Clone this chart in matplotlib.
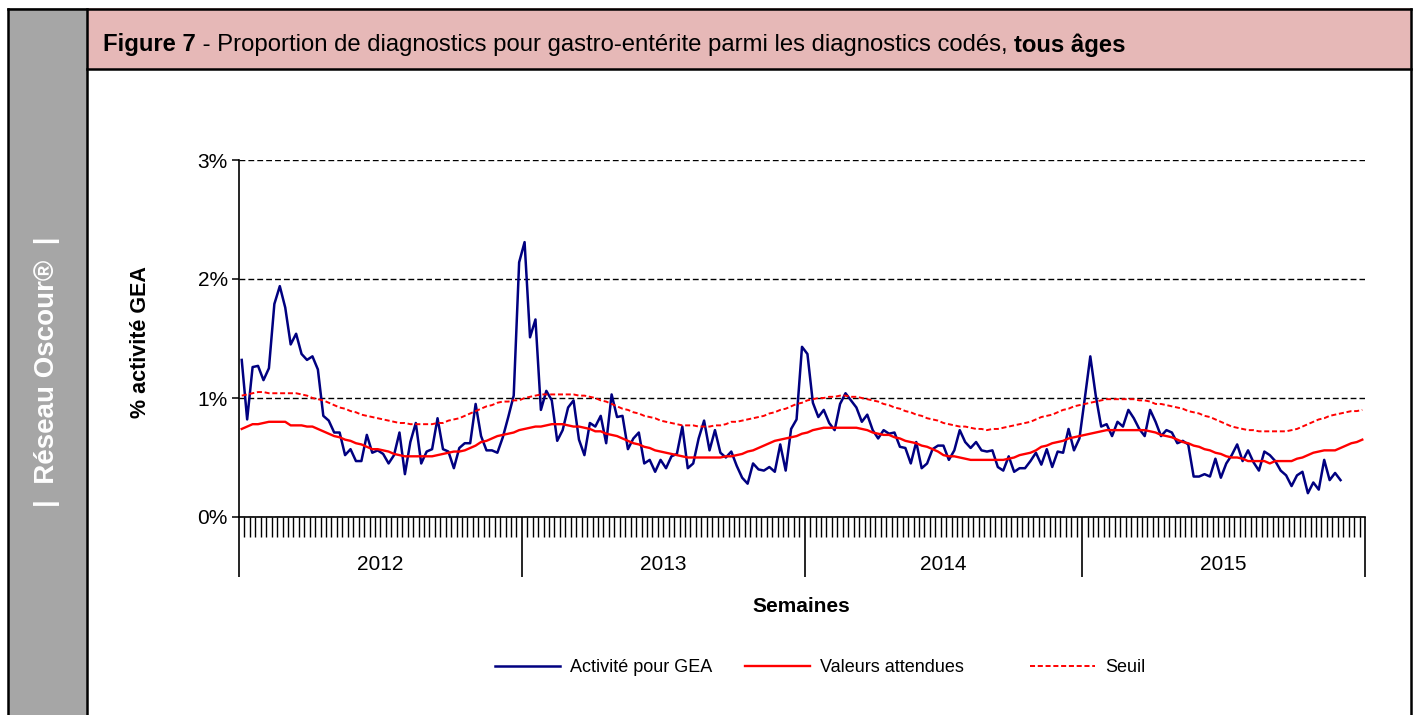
import matplotlib
matplotlib.use('Agg')
import matplotlib.pyplot as plt
from matplotlib.lines import Line2D
from matplotlib.patches import Rectangle
from matplotlib.transforms import blended_transform_factory
import numpy as np

plt.rcParams['font.family'] = ['Liberation Sans', 'DejaVu Sans']

W, H, DPI = 1416, 715, 100

# ---------------- data ----------------
years = ['2012', '2013', '2014', '2015']
year_bounds = [-0.5, 51.5, 103.5, 154.5, 206.5]

activite = [
    1.32, 0.82, 1.26, 1.27, 1.15, 1.25, 1.79, 1.94, 1.76, 1.45,
    1.54, 1.37, 1.32, 1.35, 1.24, 0.85, 0.81, 0.71, 0.71, 0.52,
    0.57, 0.47, 0.47, 0.69, 0.54, 0.56, 0.53, 0.45, 0.52, 0.71,
    0.36, 0.63, 0.79, 0.45, 0.55, 0.57, 0.83, 0.57, 0.55, 0.41,
    0.58, 0.62, 0.62, 0.95, 0.68, 0.56, 0.56, 0.54, 0.67, 0.84,
    1.02, 2.14, 2.31, 1.51, 1.66, 0.90, 1.06, 0.98, 0.64, 0.73,
    0.92, 0.98, 0.65, 0.52, 0.79, 0.76, 0.85, 0.62, 1.03, 0.84,
    0.85, 0.57, 0.66, 0.71, 0.45, 0.48, 0.38, 0.48, 0.41, 0.51,
    0.53, 0.76, 0.41, 0.45, 0.66, 0.81, 0.56, 0.73, 0.54, 0.50,
    0.55, 0.43, 0.33, 0.28, 0.45, 0.40, 0.39, 0.42, 0.38, 0.61,
    0.39, 0.74, 0.82, 1.43, 1.37, 0.96, 0.84, 0.90, 0.79, 0.73,
    0.95, 1.04, 0.98, 0.92, 0.80, 0.86, 0.73, 0.66, 0.73, 0.70,
    0.71, 0.59, 0.58, 0.45, 0.63, 0.41, 0.45, 0.57, 0.60, 0.60,
    0.48, 0.56, 0.73, 0.63, 0.58, 0.63, 0.56, 0.55, 0.56, 0.42,
    0.39, 0.51, 0.38, 0.41, 0.41, 0.47, 0.54, 0.44, 0.57, 0.42,
    0.55, 0.54, 0.74, 0.56, 0.66, 1.00, 1.35, 1.02, 0.76, 0.78,
    0.68, 0.80, 0.76, 0.90, 0.83, 0.74, 0.68, 0.90, 0.80, 0.68,
    0.73, 0.71, 0.62, 0.64, 0.61, 0.34, 0.34, 0.36, 0.34, 0.49,
    0.33, 0.45, 0.52, 0.61, 0.47, 0.56, 0.46, 0.39, 0.55, 0.52,
    0.47, 0.39, 0.35, 0.26, 0.35, 0.38, 0.20, 0.29, 0.23, 0.48,
    0.31, 0.37, 0.31,
]

attendues = [
    0.74, 0.76, 0.78, 0.78, 0.79, 0.80, 0.80, 0.80, 0.80, 0.77,
    0.77, 0.77, 0.76, 0.76, 0.74, 0.72, 0.70, 0.68, 0.67, 0.65,
    0.64, 0.62, 0.61, 0.59, 0.57, 0.57, 0.56, 0.55, 0.53, 0.52,
    0.51, 0.51, 0.51, 0.51, 0.51, 0.51, 0.52, 0.53, 0.54, 0.55,
    0.55, 0.56, 0.58, 0.60, 0.63, 0.64, 0.66, 0.68, 0.69, 0.70,
    0.71, 0.73, 0.74, 0.75, 0.76, 0.76, 0.77, 0.78, 0.78, 0.78,
    0.77, 0.76, 0.76, 0.75, 0.74, 0.72, 0.72, 0.70, 0.69, 0.68,
    0.66, 0.64, 0.62, 0.61, 0.59, 0.58, 0.56, 0.55, 0.54, 0.53,
    0.52, 0.51, 0.50, 0.50, 0.50, 0.50, 0.50, 0.50, 0.50, 0.51,
    0.51, 0.52, 0.53, 0.55, 0.56, 0.58, 0.60, 0.62, 0.64, 0.65,
    0.66, 0.67, 0.68, 0.70, 0.71, 0.73, 0.74, 0.75, 0.75, 0.75,
    0.75, 0.75, 0.75, 0.75, 0.74, 0.73, 0.71, 0.70, 0.69, 0.69,
    0.67, 0.66, 0.64, 0.63, 0.62, 0.60, 0.59, 0.57, 0.55, 0.52,
    0.51, 0.51, 0.50, 0.49, 0.48, 0.48, 0.48, 0.48, 0.48, 0.48,
    0.48, 0.49, 0.50, 0.52, 0.53, 0.54, 0.56, 0.59, 0.60, 0.62,
    0.63, 0.64, 0.66, 0.67, 0.68, 0.69, 0.70, 0.71, 0.72, 0.73,
    0.73, 0.73, 0.73, 0.73, 0.73, 0.73, 0.73, 0.72, 0.71, 0.69,
    0.68, 0.67, 0.65, 0.63, 0.62, 0.60, 0.59, 0.57, 0.56, 0.54,
    0.53, 0.51, 0.50, 0.50, 0.49, 0.47, 0.47, 0.47, 0.47, 0.45,
    0.47, 0.47, 0.47, 0.47, 0.49, 0.50, 0.52, 0.54, 0.55, 0.56,
    0.56, 0.56, 0.58, 0.60, 0.62, 0.63, 0.65,
]

seuil = [
    1.02, 1.03, 1.04, 1.05, 1.05, 1.04, 1.04, 1.04, 1.04, 1.04,
    1.04, 1.03, 1.02, 1.00, 0.99, 0.98, 0.96, 0.94, 0.92, 0.91,
    0.89, 0.88, 0.86, 0.85, 0.84, 0.83, 0.82, 0.81, 0.80, 0.79,
    0.79, 0.78, 0.78, 0.78, 0.78, 0.78, 0.79, 0.79, 0.81, 0.82,
    0.83, 0.85, 0.87, 0.89, 0.91, 0.93, 0.94, 0.96, 0.97, 0.97,
    0.98, 0.98, 1.00, 1.01, 1.02, 1.03, 1.03, 1.03, 1.03, 1.03,
    1.03, 1.03, 1.02, 1.02, 1.01, 1.00, 0.98, 0.97, 0.95, 0.93,
    0.91, 0.90, 0.88, 0.87, 0.85, 0.84, 0.83, 0.81, 0.80, 0.79,
    0.78, 0.77, 0.77, 0.77, 0.76, 0.76, 0.76, 0.77, 0.77, 0.78,
    0.80, 0.80, 0.81, 0.82, 0.83, 0.84, 0.85, 0.87, 0.88, 0.90,
    0.91, 0.93, 0.95, 0.96, 0.98, 0.99, 1.00, 1.00, 1.01, 1.01,
    1.02, 1.02, 1.01, 1.01, 1.00, 0.99, 0.98, 0.97, 0.95, 0.94,
    0.92, 0.91, 0.89, 0.88, 0.86, 0.85, 0.83, 0.82, 0.81, 0.79,
    0.78, 0.77, 0.76, 0.76, 0.75, 0.74, 0.74, 0.73, 0.74, 0.74,
    0.75, 0.76, 0.77, 0.78, 0.79, 0.80, 0.82, 0.84, 0.85, 0.86,
    0.88, 0.90, 0.91, 0.93, 0.94, 0.95, 0.96, 0.97, 0.98, 0.99,
    0.99, 0.99, 0.99, 0.99, 0.99, 0.98, 0.98, 0.97, 0.95, 0.95,
    0.94, 0.93, 0.92, 0.91, 0.89, 0.88, 0.87, 0.85, 0.84, 0.82,
    0.80, 0.78, 0.76, 0.75, 0.74, 0.73, 0.73, 0.72, 0.72, 0.72,
    0.72, 0.72, 0.72, 0.73, 0.74, 0.76, 0.78, 0.80, 0.82, 0.83,
    0.85, 0.86, 0.87, 0.88, 0.89, 0.89, 0.90,
]

y_ticks = [0, 1, 2, 3]
y_tick_labels = ['0%', '1%', '2%', '3%']
series_labels = ['Activité pour GEA', 'Valeurs attendues', 'Seuil']
title_parts = ['Figure 7',
               ' - Proportion de diagnostics pour gastro-entérite parmi les diagnostics codés, ',
               'tous âges']
side_text = '|  Réseau Oscour®  |'
y_label = '% activité GEA'
x_label = 'Semaines'

# ---------------- figure ----------------
fig = plt.figure(figsize=(W / DPI, H / DPI), dpi=DPI)
fig.patch.set_facecolor('white')


def fx(px):
    return px / W


def fy(py):
    return 1 - py / H


# side bar and title band
fig.add_artist(Rectangle((fx(8), fy(715)), fx(87) - fx(8), fy(8) - fy(715),
                         transform=fig.transFigure, facecolor='#A6A6A6',
                         edgecolor='none', zorder=0))
fig.add_artist(Rectangle((fx(87), fy(69)), fx(1411) - fx(87), fy(8) - fy(69),
                         transform=fig.transFigure, facecolor='#E6B8B7',
                         edgecolor='none', zorder=0))
frame_kw = dict(color='black', lw=1.8, transform=fig.transFigure, zorder=5,
                solid_capstyle='projecting')
fig.add_artist(Line2D([fx(7.5), fx(7.5)], [fy(8.5), fy(716)], **frame_kw))
fig.add_artist(Line2D([fx(7.5), fx(1411)], [fy(8.5), fy(8.5)], **frame_kw))
fig.add_artist(Line2D([fx(1411), fx(1411)], [fy(8.5), fy(716)], **frame_kw))
fig.add_artist(Line2D([fx(86.5), fx(86.5)], [fy(8.5), fy(716)], **frame_kw))
fig.add_artist(Line2D([fx(86.5), fx(1411)], [fy(68.5), fy(68.5)], **frame_kw))

# side text
fig.text(fx(47), fy(372), side_text, rotation=90, color='white',
         fontweight='bold', fontsize=20, ha='center', va='center')

# title (mixed bold / regular)
fig.canvas.draw()
renderer = fig.canvas.get_renderer()
x_cur = fx(103)
weights = ['bold', 'normal', 'bold']
for part, wgt in zip(title_parts, weights):
    t = fig.text(x_cur, fy(45), part, fontsize=17.2, fontweight=wgt,
                 ha='left', va='center', color='black')
    bb = t.get_window_extent(renderer=renderer)
    x_cur += bb.width / W

# axes
ax = fig.add_axes([fx(239), fy(517), fx(1365) - fx(239), fy(160) - fy(517)])
ax.set_xlim(year_bounds[0], year_bounds[-1])
ax.set_ylim(y_ticks[0], y_ticks[-1])
ax.patch.set_alpha(0)

l1, = ax.plot(np.arange(len(activite)), activite, color='#000080', lw=1.8,
              zorder=3, label=series_labels[0])
l2, = ax.plot(np.arange(len(attendues)), attendues, color='#FF0000', lw=1.7,
              zorder=4, label=series_labels[1])
l3, = ax.plot(np.arange(len(seuil)), seuil, color='#FF0000', lw=1.4,
              dashes=(2.6, 1.4), zorder=5, label=series_labels[2])

ax.set_yticks(y_ticks)
ax.set_yticklabels(y_tick_labels)
ax.yaxis.grid(True, color='black', linestyle=(0, (4.2, 2.2)), lw=1.0)
ax.set_axisbelow(True)
for s in ['top', 'right']:
    ax.spines[s].set_visible(False)
for s in ['left', 'bottom']:
    ax.spines[s].set_linewidth(1.2)
    ax.spines[s].set_color('black')

ax.tick_params(axis='y', length=5, width=1.1, direction='out', labelsize=15,
               pad=3, colors='black')
ax.set_xticks(year_bounds)
ax.set_xticklabels([])
ax.set_xticks(np.arange(year_bounds[0], year_bounds[-1] + 0.01, 1.0), minor=True)
ax.tick_params(axis='x', which='major', length=43, width=1.2, direction='out')
ax.tick_params(axis='x', which='minor', length=14.5, width=1.0, direction='out')

trans = blended_transform_factory(ax.transData, ax.transAxes)
for i, yr in enumerate(years):
    c = (year_bounds[i] + year_bounds[i + 1]) / 2
    ax.text(c, -0.134, yr, transform=trans, ha='center', va='center', fontsize=15)

fig.text(fx(801), fy(606), x_label, fontsize=15, fontweight='bold',
         ha='center', va='center')
fig.text(fx(140), fy(342), y_label, fontsize=15.5, fontweight='bold',
         rotation=90, ha='center', va='center')

# legend (three entries laid out like the original)
leg_fs = 13
fs_px = leg_fs * DPI / 72
leg_x = [495, 745, 1030]
for handle, lx in zip([l1, l2, l3], leg_x):
    lg = fig.legend([handle], [handle.get_label()], loc='center left',
                    bbox_to_anchor=(fx(lx), fy(668)), frameon=False,
                    fontsize=leg_fs, handlelength=65 / fs_px,
                    handletextpad=10 / fs_px, borderpad=0, borderaxespad=0)

fig.savefig('out.png', dpi=DPI, facecolor='white')
